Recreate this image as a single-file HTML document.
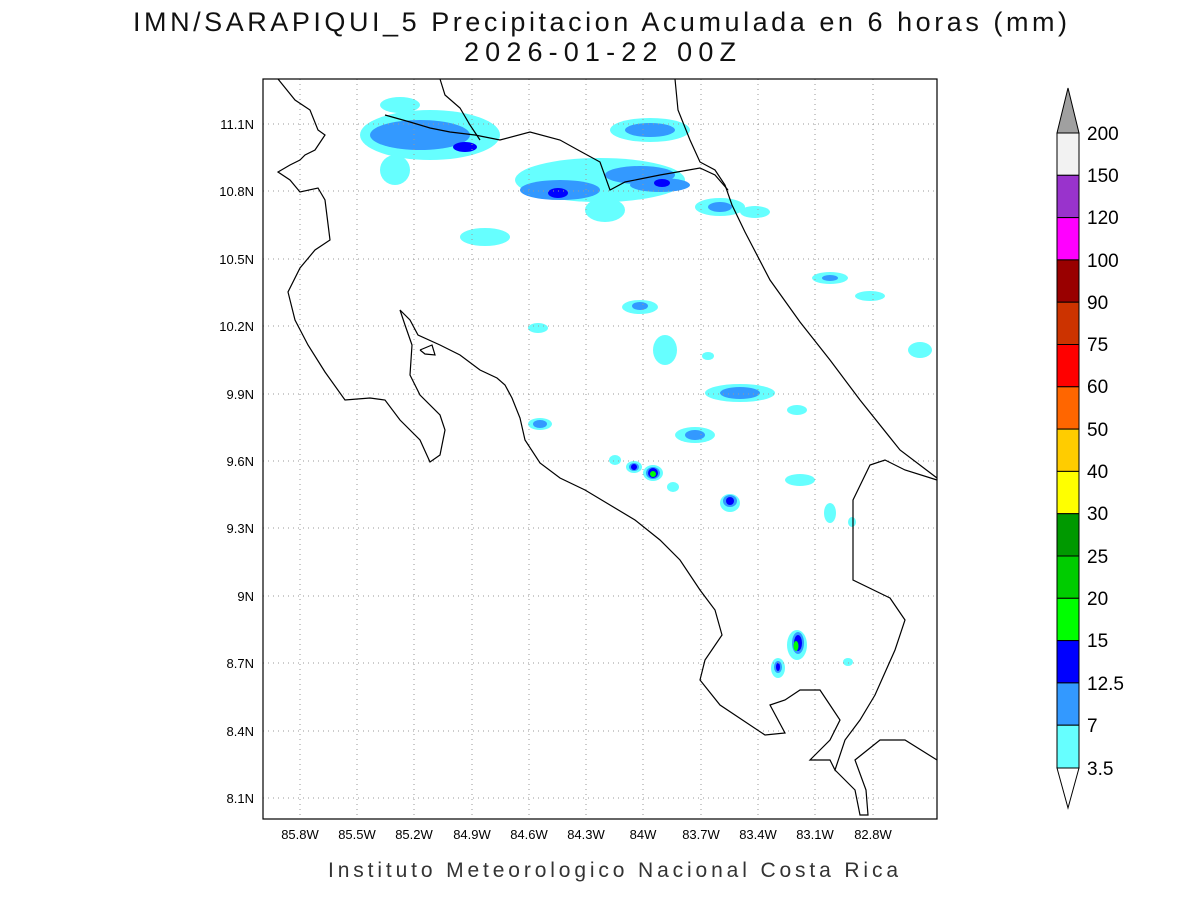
<!DOCTYPE html>
<html><head><meta charset="utf-8"><style>
body{margin:0;background:#fff;}
svg{display:block;font-family:"Liberation Sans",sans-serif;}
</style></head><body>
<svg width="1200" height="900" viewBox="0 0 1200 900" xmlns="http://www.w3.org/2000/svg">
<rect width="1200" height="900" fill="#fff"/>
<text x="133" y="31" textLength="934" lengthAdjust="spacing" font-size="27" fill="#111">IMN/SARAPIQUI_5 Precipitacion Acumulada en 6 horas (mm)</text>
<text x="464" y="61" textLength="272" lengthAdjust="spacing" font-size="27" fill="#111">2026-01-22 00Z</text>

<g>
<g fill="#66ffff">
<ellipse cx="430" cy="135" rx="70" ry="25"/><ellipse cx="400" cy="105" rx="20" ry="8"/><ellipse cx="395" cy="170" rx="15" ry="15"/>
<ellipse cx="650" cy="130" rx="40" ry="12"/><ellipse cx="600" cy="180" rx="85" ry="22"/><ellipse cx="605" cy="210" rx="20" ry="12"/>
<ellipse cx="485" cy="237" rx="25" ry="9"/><ellipse cx="720" cy="207" rx="25" ry="9"/><ellipse cx="755" cy="212" rx="15" ry="6"/>
<ellipse cx="830" cy="278" rx="18" ry="6"/><ellipse cx="870" cy="296" rx="15" ry="5"/><ellipse cx="920" cy="350" rx="12" ry="8"/>
<ellipse cx="640" cy="307" rx="18" ry="7"/><ellipse cx="665" cy="350" rx="12" ry="15"/><ellipse cx="740" cy="393" rx="35" ry="9"/>
<ellipse cx="695" cy="435" rx="20" ry="8"/><ellipse cx="540" cy="424" rx="12" ry="6"/><ellipse cx="615" cy="460" rx="6" ry="5"/>
<ellipse cx="634" cy="467" rx="8" ry="6"/><ellipse cx="653" cy="473" rx="10" ry="8"/><ellipse cx="673" cy="487" rx="6" ry="5"/>
<ellipse cx="730" cy="503" rx="10" ry="9"/><ellipse cx="800" cy="480" rx="15" ry="6"/><ellipse cx="830" cy="513" rx="6" ry="10"/>
<ellipse cx="797" cy="410" rx="10" ry="5"/><ellipse cx="852" cy="522" rx="4" ry="5"/><ellipse cx="797" cy="645" rx="10" ry="15"/>
<ellipse cx="778" cy="668" rx="7" ry="10"/><ellipse cx="848" cy="662" rx="5" ry="4"/><ellipse cx="538" cy="328" rx="10" ry="5"/>
<ellipse cx="708" cy="356" rx="6" ry="4"/>
</g>
<g fill="#3399ff">
<ellipse cx="420" cy="135" rx="50" ry="15"/><ellipse cx="650" cy="130" rx="25" ry="7"/><ellipse cx="560" cy="190" rx="40" ry="10"/>
<ellipse cx="640" cy="175" rx="35" ry="9"/><ellipse cx="660" cy="185" rx="30" ry="7"/><ellipse cx="720" cy="207" rx="12" ry="5"/>
<ellipse cx="740" cy="393" rx="20" ry="6"/><ellipse cx="695" cy="435" rx="10" ry="5"/><ellipse cx="540" cy="424" rx="7" ry="4"/>
<ellipse cx="634" cy="467" rx="5" ry="4"/><ellipse cx="653" cy="473" rx="7" ry="6"/><ellipse cx="730" cy="501" rx="7" ry="6"/>
<ellipse cx="798" cy="643" rx="6" ry="11"/><ellipse cx="778" cy="667" rx="4" ry="6"/><ellipse cx="640" cy="306" rx="8" ry="4"/>
<ellipse cx="830" cy="278" rx="8" ry="3"/>
</g>
<g fill="#0000ff">
<ellipse cx="465" cy="147" rx="12" ry="5"/><ellipse cx="558" cy="193" rx="10" ry="5"/><ellipse cx="662" cy="183" rx="8" ry="4"/>
<ellipse cx="653" cy="473" rx="5" ry="5"/><ellipse cx="798" cy="643" rx="4" ry="8"/><ellipse cx="778" cy="667" rx="2" ry="4"/>
<ellipse cx="730" cy="501" rx="4" ry="4"/><ellipse cx="634" cy="467" rx="3" ry="3"/>
</g>
<g fill="#00ff00"><ellipse cx="653" cy="474" rx="3" ry="3"/><ellipse cx="796" cy="646" rx="2.5" ry="5"/></g>
</g>

<g stroke="#999" stroke-dasharray="1,4" stroke-width="1">
<line x1="300" y1="79" x2="300" y2="819"/><line x1="357" y1="79" x2="357" y2="819"/><line x1="414" y1="79" x2="414" y2="819"/>
<line x1="472" y1="79" x2="472" y2="819"/><line x1="529" y1="79" x2="529" y2="819"/><line x1="586" y1="79" x2="586" y2="819"/>
<line x1="643" y1="79" x2="643" y2="819"/><line x1="701" y1="79" x2="701" y2="819"/><line x1="758" y1="79" x2="758" y2="819"/>
<line x1="815" y1="79" x2="815" y2="819"/><line x1="873" y1="79" x2="873" y2="819"/>
<line x1="263" y1="124" x2="937" y2="124"/><line x1="263" y1="191" x2="937" y2="191"/><line x1="263" y1="259" x2="937" y2="259"/>
<line x1="263" y1="326" x2="937" y2="326"/><line x1="263" y1="394" x2="937" y2="394"/><line x1="263" y1="461" x2="937" y2="461"/>
<line x1="263" y1="528" x2="937" y2="528"/><line x1="263" y1="596" x2="937" y2="596"/><line x1="263" y1="663" x2="937" y2="663"/>
<line x1="263" y1="731" x2="937" y2="731"/><line x1="263" y1="798" x2="937" y2="798"/>
</g>

<g fill="none" stroke="#000" stroke-width="1.2">
<polyline points="278,79 295,100 310,110 318,130 325,135 315,150 305,155 300,160 290,165 278,172 290,180 300,192 318,188 325,200 330,240 315,250 300,268 288,292 295,320 308,345 325,372 345,400 370,398 385,400 400,420 420,440 430,462 440,455 445,430 440,415 420,395 410,375 412,345 405,325 400,310 410,320 418,335 440,345 460,355 480,370 497,378 505,385 512,398 520,418 525,440 540,463 560,478 585,490 610,505 635,520 660,540 680,560 700,590 715,610 722,635 705,660 700,680 720,705 765,735 785,733 770,705 785,700 800,690 820,690 830,705 840,720 830,740 810,760 830,760 835,770 845,740 860,720 875,695 895,650 905,620 890,598 853,580 853,500 870,465 885,460 905,470 937,480"/>
<polyline points="420,350 432,345 435,355 425,354 420,350"/>
<polyline points="675,79 678,110 690,140 700,162 715,170 725,185 732,205 745,232 770,280 800,322 830,360 860,400 900,450 937,478"/>
<polyline points="385,115 410,122 430,128 450,132 475,135 500,140 530,132 560,140 578,150 600,162 610,190 625,182 660,175 700,168 715,175 728,190"/>
<polyline points="440,79 445,95 460,108 470,125 480,140"/>
<polyline points="835,770 855,790 860,815 868,815 866,790 855,760 880,740 905,740 937,760"/>
</g>

<rect x="263" y="79" width="674" height="740" fill="none" stroke="#000" stroke-width="1.2"/>

<g font-size="13" fill="#000" text-anchor="end">
<text x="254" y="129">11.1N</text><text x="254" y="196">10.8N</text><text x="254" y="264">10.5N</text>
<text x="254" y="331">10.2N</text><text x="254" y="399">9.9N</text><text x="254" y="466">9.6N</text>
<text x="254" y="533">9.3N</text><text x="254" y="601">9N</text><text x="254" y="668">8.7N</text>
<text x="254" y="736">8.4N</text><text x="254" y="803">8.1N</text>
</g>
<g font-size="13" fill="#000" text-anchor="middle">
<text x="300" y="839">85.8W</text><text x="357" y="839">85.5W</text><text x="414" y="839">85.2W</text>
<text x="472" y="839">84.9W</text><text x="529" y="839">84.6W</text><text x="586" y="839">84.3W</text>
<text x="643" y="839">84W</text><text x="701" y="839">83.7W</text><text x="758" y="839">83.4W</text>
<text x="815" y="839">83.1W</text><text x="873" y="839">82.8W</text>
</g>
<text x="328" y="877" textLength="570" lengthAdjust="spacing" font-size="21" fill="#333">Instituto Meteorologico Nacional Costa Rica</text>

<g stroke="#000" stroke-width="1">
<polygon points="1057,133 1079,133 1068,88" fill="#a0a0a0"/>
<rect x="1057" y="133" width="22" height="42.3" fill="#f2f2f2"/>
<rect x="1057" y="175.3" width="22" height="42.3" fill="#9933cc"/>
<rect x="1057" y="217.6" width="22" height="42.3" fill="#ff00ff"/>
<rect x="1057" y="259.9" width="22" height="42.3" fill="#990000"/>
<rect x="1057" y="302.2" width="22" height="42.3" fill="#cc3300"/>
<rect x="1057" y="344.5" width="22" height="42.3" fill="#ff0000"/>
<rect x="1057" y="386.8" width="22" height="42.3" fill="#ff6600"/>
<rect x="1057" y="429.1" width="22" height="42.3" fill="#ffcc00"/>
<rect x="1057" y="471.4" width="22" height="42.3" fill="#ffff00"/>
<rect x="1057" y="513.7" width="22" height="42.3" fill="#009900"/>
<rect x="1057" y="556" width="22" height="42.3" fill="#00cc00"/>
<rect x="1057" y="598.3" width="22" height="42.3" fill="#00ff00"/>
<rect x="1057" y="640.6" width="22" height="42.3" fill="#0000ff"/>
<rect x="1057" y="682.9" width="22" height="42.3" fill="#3399ff"/>
<rect x="1057" y="725.2" width="22" height="42.8" fill="#66ffff"/>
<polygon points="1057,768 1079,768 1068,808" fill="#fff"/>
</g>
<g font-size="19" fill="#000">
<text x="1087" y="140">200</text><text x="1087" y="182">150</text><text x="1087" y="224">120</text>
<text x="1087" y="267">100</text><text x="1087" y="309">90</text><text x="1087" y="351">75</text>
<text x="1087" y="393">60</text><text x="1087" y="436">50</text><text x="1087" y="478">40</text>
<text x="1087" y="520">30</text><text x="1087" y="563">25</text><text x="1087" y="605">20</text>
<text x="1087" y="647">15</text><text x="1087" y="690">12.5</text><text x="1087" y="732">7</text>
<text x="1087" y="775">3.5</text>
</g>
</svg>
</body></html>
